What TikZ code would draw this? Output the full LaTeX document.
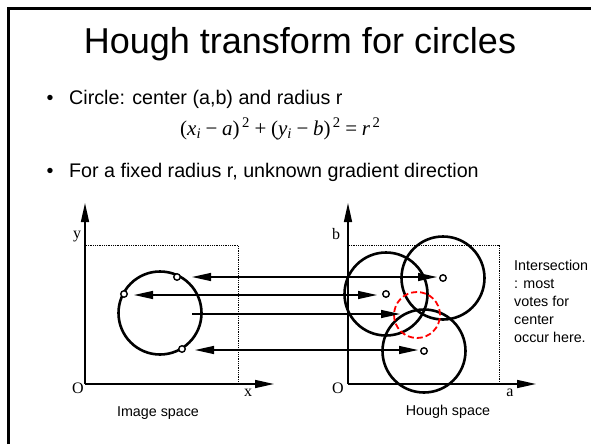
\documentclass[tikz,border=0pt]{standalone}
\usepackage{fontspec}
\setmainfont{Liberation Sans}
\newfontfamily\timesf{Liberation Serif}
\usetikzlibrary{arrows.meta}
\newcommand{\opsp}{\hspace{0.22em}}
\begin{document}
\begin{tikzpicture}[x=1pt,y=-1pt,
  titletext/.style={inner sep=0pt, font=\fontsize{36}{40}\selectfont},
  bodytext/.style={inner sep=0pt, font=\fontsize{19.7}{24}\selectfont},
  eqtext/.style={inner sep=0pt, font=\timesf\fontsize{21}{24}\selectfont},
  smalltext/.style={inner sep=0pt, font=\fontsize{14.3}{18}\selectfont},
  axlabel/.style={inner sep=0pt, font=\timesf\fontsize{16}{18}\selectfont},
  axis/.style={line width=1.5pt, -{Triangle[length=19pt,width=8pt]}},
  guide/.style={densely dotted, line width=0.8pt},
  bigcircle/.style={draw, line width=2.6pt, circle, minimum size=83pt, inner sep=0pt},
  votecircle/.style={draw=red, dash pattern=on 6pt off 3pt, line width=1.8pt, circle, minimum size=46pt, inner sep=0pt},
  dot/.style={draw, line width=1.4pt, circle, fill=white, minimum size=6.5pt, inner sep=0pt},
  ray/.style={line width=1.2pt, {Triangle[length=19pt,width=8pt]}-{Triangle[length=19pt,width=8pt]}},
  halfray/.style={line width=1.2pt, -{Triangle[length=19pt,width=8pt]}},
  frameline/.style={line width=2.6pt}
]
\useasboundingbox (0,0) rectangle (591,444);
\fill[white] (0,0) rectangle (591,444);
% frame
\coordinate (fbl) at (8.5,444);
\coordinate (ftl) at (8.5,8.5);
\coordinate (ftr) at (591,8.5);
\draw[frameline] (fbl) -- (ftl) -- (ftr);

% title and bullets
\node[titletext, anchor=base] (title) at (300,53) {Hough transform for circles};
\node[bodytext, anchor=base] (b1) at (50,104) {•};
\node[bodytext, anchor=base west] (t1) at (69,104) {Circle: center (a,b) and radius r};
\node[eqtext, anchor=base west] (eq) at (180,135)
  {(\textit{x}\textsubscript{\textit{i}}\opsp−\opsp\textit{a})\textsuperscript{\,2}\opsp+\opsp(\textit{y}\textsubscript{\textit{i}}\opsp−\opsp\textit{b})\textsuperscript{\,2}\opsp=\opsp\textit{r}\textsuperscript{\,2}};
\node[bodytext, anchor=base] (b2) at (50,177) {•};
\node[bodytext, anchor=base west] (t2) at (69,177) {For a fixed radius r, unknown gradient direction};

% image space axes
\coordinate (o1) at (85,384);
\coordinate (y1) at (85,203);
\coordinate (x1) at (274,384);
\coordinate (g1a) at (86,245);
\coordinate (g1b) at (238,245);
\coordinate (g1c) at (238,384);
\draw[guide] (g1a) -- (g1b) -- (g1c);
\draw[axis] (o1) -- (y1);
\draw[axis] (o1) -- (x1);
\node[axlabel] (lo1) at (78,388) {O};
\node[axlabel] (ly) at (77,237) {y};
\node[axlabel] (lx) at (248,393) {x};
\node[smalltext] (cap1) at (158,413) {Image space};

% hough space axes
\coordinate (o2) at (348,384);
\coordinate (y2) at (348,203);
\coordinate (x2) at (536,384);
\coordinate (g2a) at (349,245);
\coordinate (g2b) at (499,245);
\coordinate (g2c) at (499,384);
\draw[guide] (g2a) -- (g2b) -- (g2c);
\draw[axis] (o2) -- (y2);
\draw[axis] (o2) -- (x2);
\node[axlabel] (lo2) at (338,388) {O};
\node[axlabel] (lb) at (336,234) {b};
\node[axlabel] (la) at (510,393) {a};
\node[smalltext] (cap2) at (448,412) {Hough space};

% circles
\node[bigcircle] (imgc) at (160,313) {};
\node[bigcircle] (hA) at (386,294) {};
\node[bigcircle] (hB) at (443,278) {};
\node[bigcircle] (hC) at (424,351) {};
\node[votecircle] (vote) at (417,315) {};

% rays
\coordinate (l1) at (192,277);  \coordinate (r1) at (437,277);
\coordinate (l2) at (134,295);  \coordinate (r2) at (377,295);
\coordinate (l3) at (192,314);  \coordinate (r3) at (400,314);
\coordinate (l4) at (195,350);  \coordinate (r4) at (418,350);
\draw[ray] (l1) -- (r1);
\draw[ray] (l2) -- (r2);
\draw[halfray] (l3) -- (r3);
\draw[ray] (l4) -- (r4);

% dots
\node[dot] (p1) at (177,277) {};
\node[dot] (p2) at (124,294) {};
\node[dot] (p3) at (182,349) {};
\node[dot] (cA) at (386,294) {};
\node[dot] (cB) at (443,278) {};
\node[dot] (cC) at (424,351) {};

% note
\node[smalltext, align=left, anchor=north west] (note) at (514,260)
  {Intersection\\: most\\votes for\\center\\occur here.};
\end{tikzpicture}
\end{document}
